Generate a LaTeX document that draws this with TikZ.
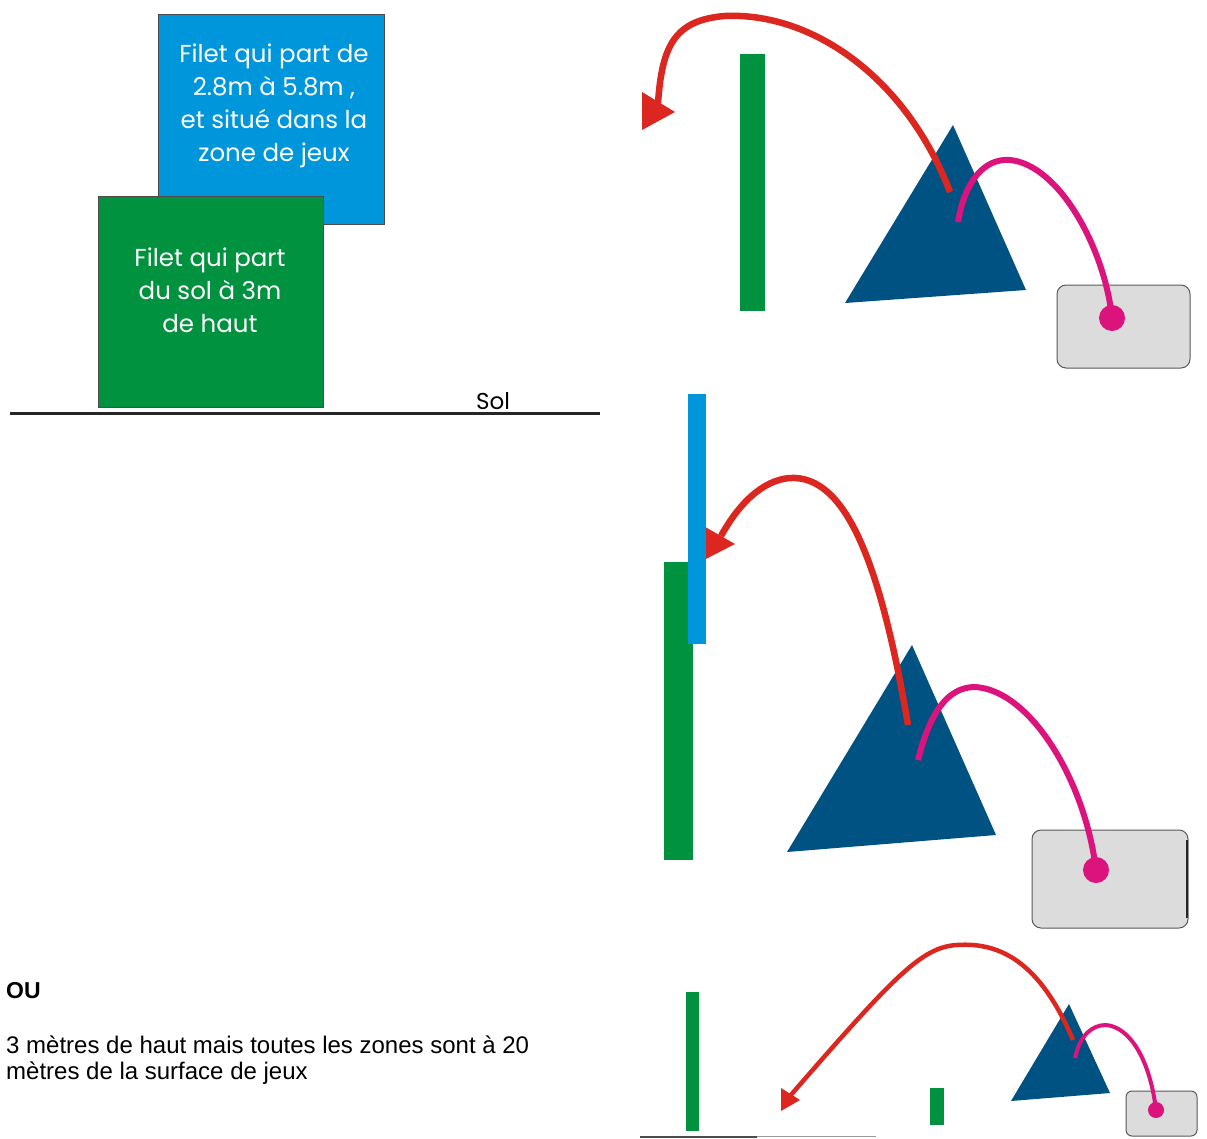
\documentclass[tikz,border=0pt]{standalone}
\usepackage{fontspec}
\setmainfont{Liberation Sans}
\newfontfamily\gothic{Poppins}
\definecolor{netblue}{RGB}{0,150,220}
\definecolor{netgreen}{RGB}{0,146,62}
\definecolor{navy}{RGB}{0,82,130}
\definecolor{ballred}{RGB}{220,38,32}
\definecolor{ballpink}{RGB}{220,18,125}
\definecolor{boxgray}{RGB}{220,220,220}
\begin{document}
\begin{tikzpicture}[x=1pt,y=-1pt,
  netbox/.style={draw=black!70,line width=0.8pt},
  boxtext/.style={text=white,align=center,font=\gothic\fontsize{24.5}{33}\selectfont,inner sep=0pt},
  hill/.style={fill=navy,draw=none},
  traj/.style={draw=ballred,line width=6.5pt},
  hit/.style={draw=ballpink,line width=6pt},
  court/.style={fill=boxgray,draw=black!65,line width=1pt,rounded corners=9pt},
  plain/.style={font=\fontsize{24}{28}\selectfont,anchor=west,inner sep=0pt}
]
\useasboundingbox (0,0) rectangle (1207,1138);

% ---- left legend ----
\fill[netblue] (158,14) rectangle (384,224);
\draw[netbox] (158,14) rectangle (384,224);
\node[boxtext] (bluetxt) at (274,106) {Filet qui part de\\2.8m à 5.8m ,\\et situé dans la\\zone de jeux};
\fill[netgreen] (98,196) rectangle (323,407);
\draw[netbox] (98,196) rectangle (323,407);
\node[boxtext] (greentxt) at (210,290) {Filet qui part\\du sol à 3m\\de haut};
\draw[line width=3pt,black!85] (10,413.5) -- (600,413.5);
\node[font=\gothic\fontsize{23}{26}\selectfont,inner sep=0pt] (sol) at (493,401) {Sol};

\node[plain,font=\bfseries\fontsize{23}{28}\selectfont] (ou) at (6,991) {OU};
\node[plain] (l1) at (6,1045) {3 mètres de haut mais toutes les zones sont à 20};
\node[plain] (l2) at (6,1073) {mètres de la surface de jeux};

% ---- scene 1 ----
\fill[netgreen] (740,54) rectangle (765,311);
\fill[hill] (953,125) -- (1026,290) -- (845,303) -- cycle;
\draw[court] (1057,285) rectangle (1190,368);
\draw[traj] (950,192) .. controls (905,75) and (810,12) .. (725,16)
  .. controls (675,20) and (662,45) .. (658,103);
\fill[ballred] (642,92) -- (675,112) -- (642,130) -- cycle;
\draw[hit] (958,222) .. controls (965,180) and (985,158) .. (1010,160)
  .. controls (1060,165) and (1105,250) .. (1112,318);
\fill[ballpink] (1112,318) circle (13);

% ---- scene 2 ----
\fill[netgreen] (664,562) rectangle (693,860);
\fill[hill] (912,645) -- (996,835) -- (787,852) -- cycle;
\draw[traj] (908,725) .. controls (880,560) and (845,475) .. (790,478)
  .. controls (762,480) and (738,505) .. (721,536);
\fill[ballred] (700,524) -- (735,544) -- (700,562) -- cycle;
\fill[netblue] (688,394) rectangle (706,644);
\draw[court] (1032,830) rectangle (1188,928);
\draw[black!85,line width=2pt] (1187,840) -- (1187,918);
\draw[hit] (918,760) .. controls (930,712) and (948,687) .. (975,687)
  .. controls (1030,690) and (1085,780) .. (1096,870);
\fill[ballpink] (1096,870) circle (13);

% ---- scene 3 ----
\draw[black!70,line width=2pt] (640,1136.5) -- (757,1136.5);
\draw[black!40,line width=1.5pt] (757,1136.5) -- (876,1136.5);
\fill[netgreen] (686,992) rectangle (699,1131);
\fill[netgreen] (930,1088) rectangle (944,1125);
\fill[hill] (1069,1004) -- (1110,1093) -- (1011,1101) -- cycle;
\draw[court,rounded corners=6pt] (1126,1091) rectangle (1197,1136);
\draw[traj,line width=4.5pt] (1073,1040) .. controls (1040,962) and (1000,942) .. (957,945)
  .. controls (922,947) and (895,975) .. (790,1096);
\fill[ballred] (781,1088) -- (800,1100) -- (781,1111) -- cycle;
\draw[hit,line width=4pt] (1075,1058) .. controls (1080,1035) and (1092,1025) .. (1106,1025)
  .. controls (1130,1027) and (1150,1060) .. (1156,1110);
\fill[ballpink] (1156,1110) circle (8);
\end{tikzpicture}
\end{document}
